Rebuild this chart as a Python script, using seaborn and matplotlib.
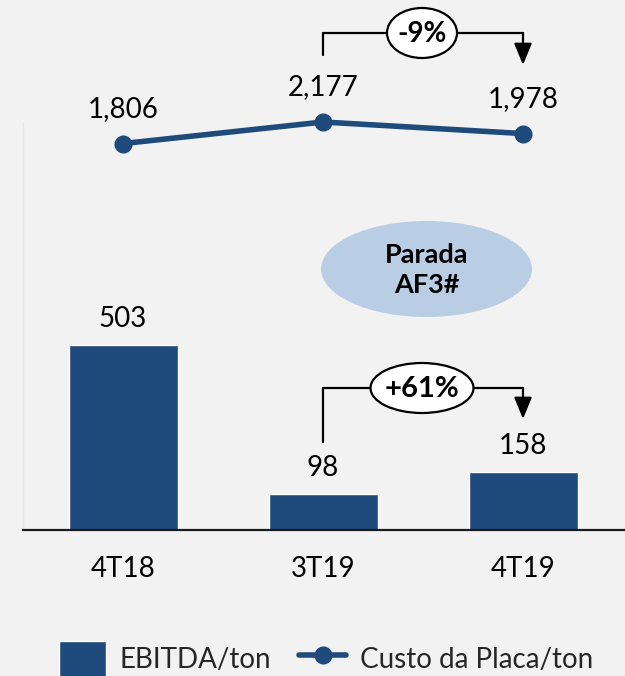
import matplotlib
matplotlib.use("Agg")
import matplotlib.pyplot as plt
import matplotlib.transforms as mtransforms
from matplotlib.patches import Ellipse, Patch
from matplotlib.lines import Line2D
import seaborn as sns
import numpy as np
import pandas as pd

# ---- data ----
quarters = ["4T18", "3T19", "4T19"]
ebitda_ton = [503, 98, 158]
custo_placa = [1806, 2177, 1978]
var_custo = "-9%"
var_ebitda = "+61%"
note_text = "Parada\nAF3#"
legend_labels = ["EBITDA/ton", "Custo da Placa/ton"]

# ---- style ----
sns.set_theme(style="white")
plt.rcParams["font.family"] = ["Lato", "DejaVu Sans"]
BG = "#f2f2f2"
BLUE = "#1f4a7c"
ELL = "#b9cde5"

W, H = 625, 676
fig = plt.figure(figsize=(W / 100, H / 100), dpi=100, facecolor=BG)

def fy(y):  # pixel (from top) -> figure fraction
    return 1 - y / H

rect = [23 / W, fy(530), (W - 23) / W, (530 - 123) / H]
ax = fig.add_axes(rect, facecolor=BG)

df = pd.DataFrame({"q": quarters, "v": ebitda_ton})
sns.barplot(data=df, x="q", y="v", ax=ax, color=BLUE, width=0.545,
            edgecolor="white", linewidth=1, saturation=1)
ax.set_xlim(-0.5, 2.51)
ax.set_ylim(0, 407 / 0.368)
ax.set_xlabel("")
ax.set_ylabel("")
ax.set_yticks([])
for s in ["top", "right"]:
    ax.spines[s].set_visible(False)
ax.spines["bottom"].set_color("#1a1a1a")
ax.spines["bottom"].set_linewidth(1.6)
ax.spines["left"].set_color("#e6e6da")
ax.spines["left"].set_linewidth(1)
ax.tick_params(axis="x", length=0, pad=19, labelsize=20, labelcolor="black")
for c in ax.containers:
    ax.bar_label(c, labels=[f"{v:,}" for v in ebitda_ton], padding=9,
                 fontsize=20, color="black")

# line chart on overlay axes
ax2 = fig.add_axes(rect, facecolor="none")
dfl = pd.DataFrame({"q": quarters, "v": custo_placa})
sns.lineplot(data=dfl, x="q", y="v", ax=ax2, color=BLUE, linewidth=4,
             marker="o", markersize=13, markeredgewidth=0, sort=False)
for ln in ax2.lines:
    ln.set_clip_on(False)
ax2.set_xlim(-0.5, 2.51)
top_val = 2177 - 1 * 17.2
ax2.set_ylim(top_val - 407 * 17.2, top_val)
ax2.axis("off")
for i, v in enumerate(custo_placa):
    ax2.annotate(f"{v:,}", xy=(i, v), xytext=(0, 25), textcoords="offset points",
                 ha="center", va="center", fontsize=20, color="black",
                 annotation_clip=False)

# ---- annotations ----
tr = mtransforms.blended_transform_factory(ax.transData, fig.transFigure)

def bracket(x0, x1, y_start, y_top, y_tip, label, ell_w, fs):
    fig.add_artist(Line2D([x0, x0, x1], [fy(y_start), fy(y_top), fy(y_top)],
                          transform=tr, color="black", lw=1.6))
    ax.annotate("", xy=(x1, fy(y_tip)), xytext=(x1, fy(y_top)),
                xycoords=tr, textcoords=tr, annotation_clip=False,
                arrowprops=dict(arrowstyle="-|>,head_length=1.1,head_width=0.45",
                                color="black", lw=1.6, shrinkA=0, shrinkB=0))
    xc = (x0 + x1) / 2 - 0.005
    e = Ellipse((xc, fy(y_top)), ell_w / 200, 50 / H, transform=tr,
                facecolor="white", edgecolor="black", lw=1.6, zorder=5)
    fig.add_artist(e)
    fig.text(xc, fy(y_top + 1), label, transform=tr, ha="center", va="center",
             fontsize=fs, fontweight="bold", color="black", zorder=6)

bracket(1, 2, 55, 33, 65, var_custo, 70, 20)
bracket(1, 2, 442, 388, 419, var_ebitda, 103, 21)

fig.add_artist(Ellipse((1.5175, fy(269)), 211 / 200, 96 / H, transform=tr,
                       facecolor=ELL, edgecolor="none", zorder=3))
fig.text(1.5175, fy(270), note_text, transform=tr, ha="center", va="center",
         fontsize=19.5, fontweight="bold", color="black", linespacing=1.3,
         zorder=4)

# ---- legend ----
handles = [Patch(facecolor=BLUE, edgecolor="white"),
           Line2D([], [], color=BLUE, lw=4, marker="o", markersize=13,
                  markeredgewidth=0)]
fig.legend(handles, legend_labels, loc="center", bbox_to_anchor=(326 / W, fy(659)),
           ncol=2, frameon=False, fontsize=20, handlelength=1.7,
           handleheight=1.6, handletextpad=0.5, columnspacing=1.0,
           borderpad=0, borderaxespad=0)

fig.savefig("out.png", dpi=100, facecolor=BG)
